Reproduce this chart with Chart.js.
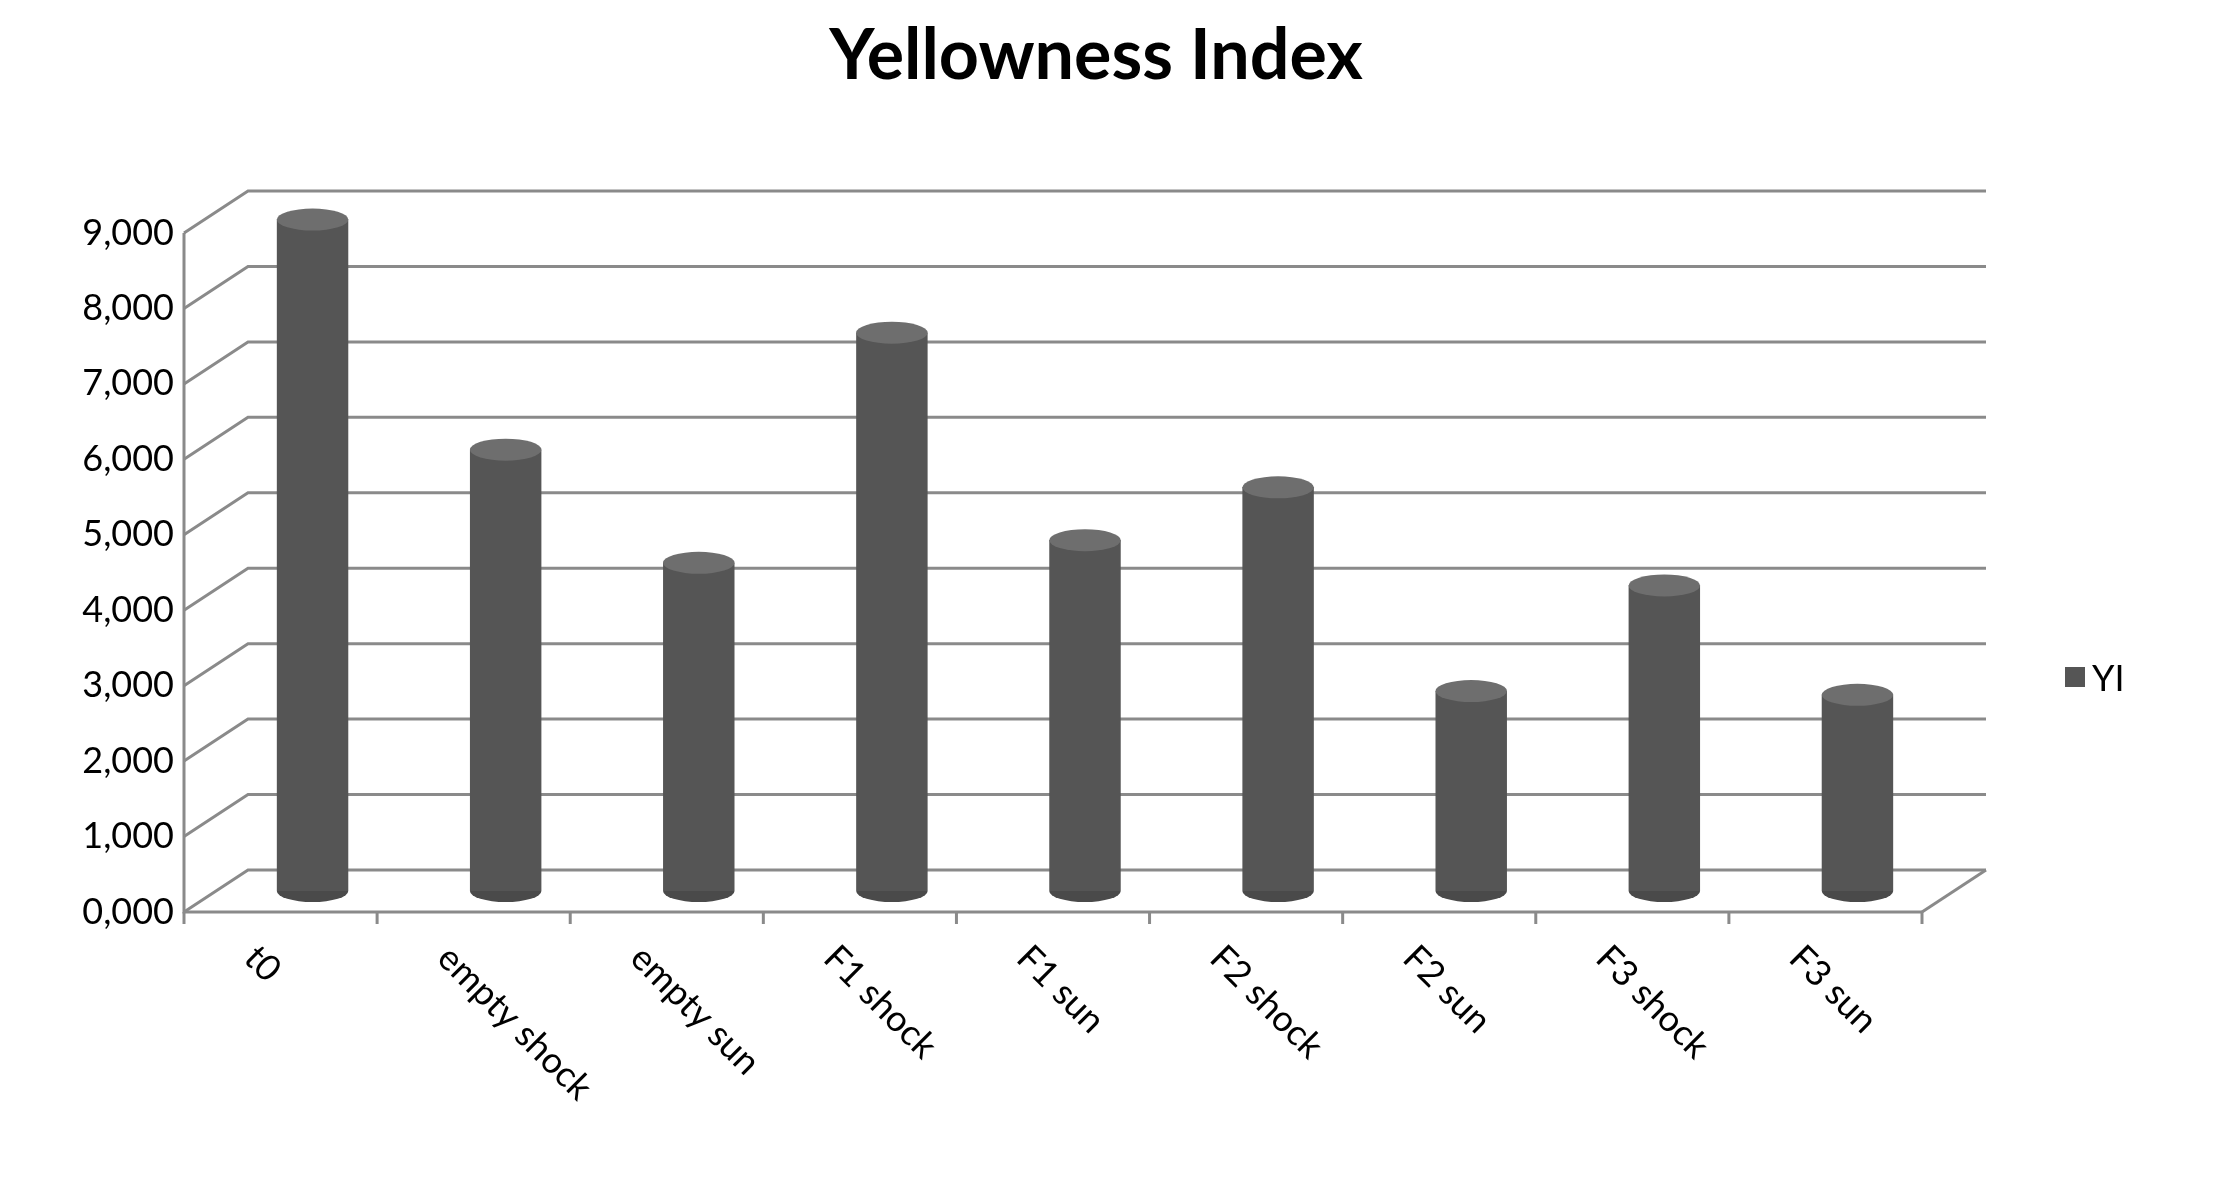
<!DOCTYPE html>
<html><head><meta charset="utf-8">
<script src="https://cdn.jsdelivr.net/npm/chart.js@4"></script>
<style>html,body{margin:0;background:#fff}#c{display:block}</style>
</head><body>
<canvas id="c" width="2231" height="1192"></canvas>
<script>
const categories = ["t0", "empty shock", "empty sun", "F1 shock", "F1 sun", "F2 shock", "F2 sun", "F3 shock", "F3 sun"];
const yiValues = [8.9, 5.85, 4.35, 7.4, 4.65, 5.35, 2.65, 4.05, 2.6];
const yTicks = [0, 1, 2, 3, 4, 5, 6, 7, 8, 9];

const DX = 32, DY = 21;   // half depth of the 3D box
const FONT = "Lato, 'Open Sans', sans-serif";

function cylFill(ctx) {
    const el = ctx.element, chart = ctx.chart;
    if (!el || el.x == null) { return "#555"; }
    const w = el.width || 72;
    const g = chart.ctx.createLinearGradient(el.x - w / 2, 0, el.x + w / 2, 0);
    g.addColorStop(0, "#3c3c3c");
    g.addColorStop(0.35, "#6a6a6a");
    g.addColorStop(1, "#383838");
    return g;
}

const box3d = {
    id: "box3d",
    beforeDatasetsDraw(chart) {
        const c = chart.ctx, a = chart.chartArea, y = chart.scales.y;
        c.save();
        c.strokeStyle = "#8a8a8a";
        c.lineWidth = 3;
        for (const t of yTicks) {
            const py = y.getPixelForValue(t);
            c.beginPath();
            c.moveTo(a.left - DX, py + DY);
            c.lineTo(a.left + DX, py - DY);
            c.lineTo(a.right + DX, py - DY);
            c.stroke();
        }
        const p0 = y.getPixelForValue(0);
        c.beginPath();
        c.moveTo(a.right - DX, p0 + DY);
        c.lineTo(a.right + DX, p0 - DY);
        c.stroke();
        c.restore();
    },
    afterDatasetsDraw(chart) {
        const c = chart.ctx, a = chart.chartArea, y = chart.scales.y, x = chart.scales.x;
        c.save();
        for (const el of chart.getDatasetMeta(0).data) {
            const w = el.width, h = 11;
            c.fillStyle = "#4a4a4a";
            c.beginPath();
            c.ellipse(el.x, el.base, w / 2, h, 0, 0, Math.PI);
            c.fill();
            c.fillStyle = "#6e6e6e";
            c.beginPath();
            c.ellipse(el.x, el.y, w / 2, h, 0, 0, 2 * Math.PI);
            c.fill();
        }
        // front axes
        c.strokeStyle = "#8a8a8a";
        c.lineWidth = 3;
        const p0 = y.getPixelForValue(0) + DY, p9 = y.getPixelForValue(9) + DY;
        c.beginPath();
        c.moveTo(a.left - DX, p9);
        c.lineTo(a.left - DX, p0);
        c.lineTo(a.right - DX, p0);
        c.stroke();
        const step = (a.right - a.left) / categories.length;
        for (let i = 0; i <= categories.length; i++) {
            const px = a.left - DX + i * step;
            c.beginPath();
            c.moveTo(px, p0);
            c.lineTo(px, p0 + 12);
            c.stroke();
        }
        c.fillStyle = "#000";
        c.font = "36px " + FONT;
        c.textAlign = "right";
        c.textBaseline = "middle";
        for (const t of yTicks) {
            c.fillText(t.toFixed(3).replace(".", ","), a.left - DX - 10, y.getPixelForValue(t) + DY);
        }
        c.textAlign = "left";
        categories.forEach((lab, i) => {
            c.save();
            c.translate(x.getPixelForValue(i) - DX - 30, p0 + 40);
            c.rotate(Math.PI / 4);
            c.fillText(lab, 0, 0);
            c.restore();
        });
        c.font = "bold 70px " + FONT;
        c.textAlign = "center";
        c.fillText("Yellowness Index", 1096, 56);
        c.fillStyle = "#555";
        c.fillRect(2065, 667, 20, 20);
        c.fillStyle = "#000";
        c.font = "36px " + FONT;
        c.textAlign = "left";
        c.fillText("YI", 2092, 679);
        c.restore();
    }
};

new Chart(document.getElementById("c"), {
    type: "bar",
    data: {
        labels: categories,
        datasets: [{ label: "YI", data: yiValues, backgroundColor: cylFill,
            barPercentage: 0.37, categoryPercentage: 1 }],
    },
    options: {
        responsive: false,
        animation: false,
        layout: { padding: { left: 216, right: 277, top: 212, bottom: 301 } },
        plugins: { legend: { display: false }, tooltip: { enabled: false } },
        scales: {
            x: { display: false },
            y: { display: false, min: 0, max: 9 },
        },
    },
    plugins: [box3d],
});
</script>
</body></html>
